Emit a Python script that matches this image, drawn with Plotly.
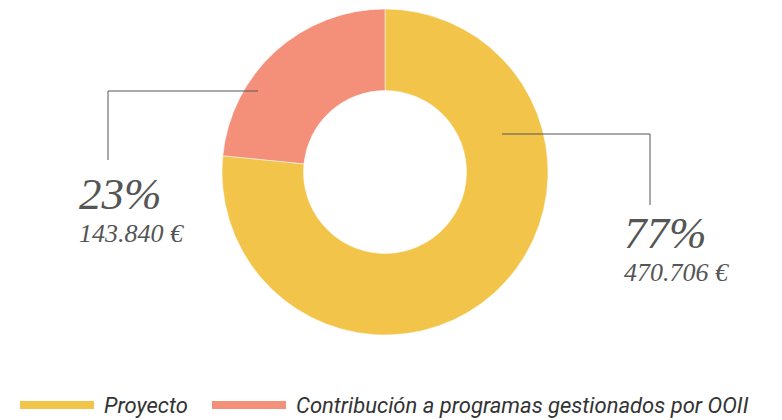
import plotly.graph_objects as go

categories = ["Proyecto", "Contribución a programas gestionados por OOII"]
values = [470706, 143840]
colors = ["#F2C44A", "#F4907A"]

W, H = 782, 420
total = sum(values)


def px(x):
    return x / W


def py(y):
    return 1 - y / H


def euro(v):
    return f"{v:,}".replace(",", ".") + " €"


cx, cy, r = 385, 172, 163

fig = go.Figure()
fig.add_trace(go.Pie(
    labels=categories,
    values=values,
    hole=0.5,
    sort=False,
    direction="clockwise",
    rotation=0,
    marker=dict(colors=colors, line=dict(color="#ffffff", width=0.5)),
    textinfo="none",
    hoverinfo="label+value+percent",
    showlegend=False,
    domain=dict(x=[px(cx - r), px(cx + r)], y=[py(cy + r), py(cy - r)]),
))

line_style = dict(color="#555555", width=1)
shapes = [
    # left leader line (Contribución)
    dict(type="line", xref="paper", yref="paper", x0=px(258), y0=py(91), x1=px(108), y1=py(91), line=line_style),
    dict(type="line", xref="paper", yref="paper", x0=px(108), y0=py(91), x1=px(108), y1=py(160), line=line_style),
    # right leader line (Proyecto)
    dict(type="line", xref="paper", yref="paper", x0=px(502), y0=py(134), x1=px(650), y1=py(134), line=line_style),
    dict(type="line", xref="paper", yref="paper", x0=px(650), y0=py(134), x1=px(650), y1=py(205), line=line_style),
]

label_pos = {0: (622, 206), 1: (77, 167)}
annotations = []
for i, v in enumerate(values):
    lx, ly = label_pos[i]
    annotations.append(dict(
        xref="paper", yref="paper", x=px(lx), y=py(ly), xanchor="left", yanchor="top",
        text=f"{round(v / total * 100)}%", showarrow=False,
        font=dict(family="Liberation Serif", size=45, color="#555555", style="italic"),
    ))
    annotations.append(dict(
        xref="paper", yref="paper", x=px(lx), y=py(ly + 50), xanchor="left", yanchor="top",
        text=euro(v), showarrow=False,
        font=dict(family="Liberation Serif", size=26, color="#555555", style="italic"),
    ))

# legend drawn as thick line swatches with text
leg_x = [20, 212]
leg_y = 405
for i, name in enumerate(categories):
    x0 = leg_x[i]
    shapes.append(dict(type="line", xref="paper", yref="paper", x0=px(x0), y0=py(leg_y),
                       x1=px(x0 + 74), y1=py(leg_y), line=dict(color=colors[i], width=8)))
    annotations.append(dict(
        xref="paper", yref="paper", x=px(x0 + 82), y=py(leg_y), xanchor="left", yanchor="middle",
        text=name, showarrow=False,
        font=dict(family="Liberation Sans Narrow, Roboto, Noto Sans", size=22, color="#333333", style="italic"),
    ))

fig.update_layout(
    width=W, height=H,
    margin=dict(l=0, r=0, t=0, b=0),
    paper_bgcolor="#ffffff",
    plot_bgcolor="#ffffff",
    shapes=shapes,
    annotations=annotations,
)

fig.write_html("out.html", config={"displayModeBar": False},
               post_script="document.body.style.margin='0';")
